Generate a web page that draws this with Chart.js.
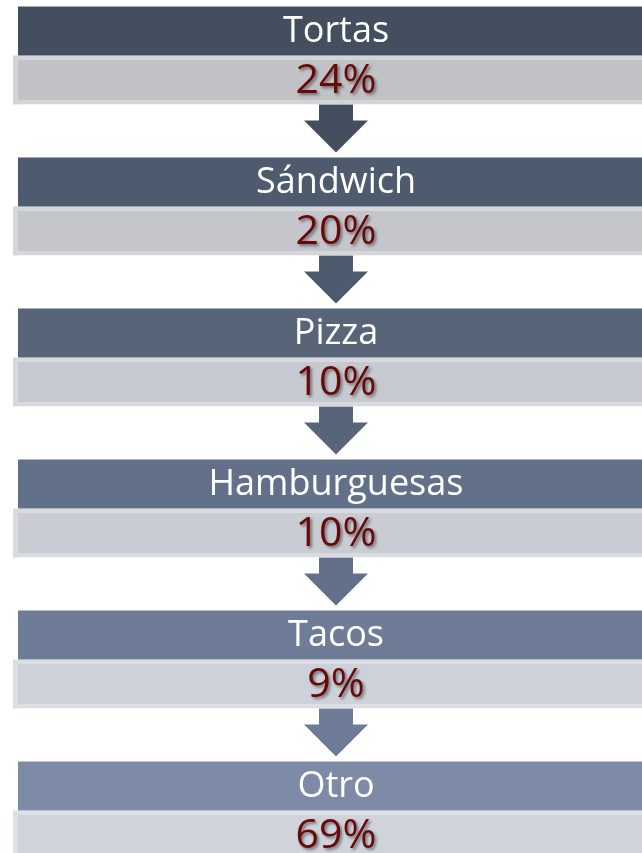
<!DOCTYPE html>
<html>
<head>
<meta charset="utf-8">
<script src="https://cdn.jsdelivr.net/npm/chart.js@4"></script>
<style>
  html, body { margin: 0; padding: 0; overflow: hidden; background: #fff; }
  #wrap { position: relative; width: 642px; height: 853px; overflow: hidden; }
  #myChart { position: absolute; left: 0; top: -20px; }
</style>
</head>
<body>
<div id="wrap"><canvas id="myChart" width="654" height="906"></canvas></div>
<script>
const categories = ["Tortas", "Sándwich", "Pizza", "Hamburguesas", "Tacos", "Otro"];
const percents = [24, 20, 10, 10, 9, 69];
// every box runs the full width, the percent is only printed
const boxSpan = [1, 1, 1, 1, 1, 1];

const darkColors = ["#434e5e", "#4e5a6d", "#586579", "#627089", "#6f7c97", "#7e8ba7"];
const grayColors = ["#c1c2c6", "#c4c6cb", "#c6c9cf", "#c9ccd3", "#cdd1d9", "#cfd3dc"];
const grayEdge = ["#d3d4d7", "#d5d6da", "#d7d9dd", "#d9dbe0", "#dcdee4", "#dde0e6"];

const ctx = document.getElementById("myChart");

const processPlugin = {
  id: "process",
  beforeDatasetsDraw(chart) {
    const c = chart.ctx;
    const grays = chart.getDatasetMeta(1).data;
    const darks = chart.getDatasetMeta(0).data;
    grays.forEach((el, i) => {
      const top = el.y - el.height / 2;
      c.fillStyle = grayEdge[i];
      c.fillRect(el.base - 5, top, 5, el.height);
      // arrow down to the next box
      if (i < grays.length - 1) {
        const y0 = el.y + el.height / 2;
        const next = darks[i + 1];
        const y1 = next.y - next.height / 2 - 5;
        const cx = (chart.chartArea.left + chart.chartArea.right) / 2;
        c.fillStyle = darkColors[i];
        c.beginPath();
        c.moveTo(cx - 17, y0);
        c.lineTo(cx + 17, y0);
        c.lineTo(cx + 17, y0 + 16);
        c.lineTo(cx + 32, y0 + 16);
        c.lineTo(cx, y1);
        c.lineTo(cx - 32, y0 + 16);
        c.lineTo(cx - 17, y0 + 16);
        c.closePath();
        c.fill();
      }
    });
  },
  afterDatasetsDraw(chart) {
    const c = chart.ctx;
    const cx = (chart.chartArea.left + chart.chartArea.right) / 2;
    c.save();
    c.textAlign = "center";
    c.textBaseline = "middle";
    chart.getDatasetMeta(0).data.forEach((el, i) => {
      c.font = "36px 'Open Sans'";
      c.fillStyle = "#ffffff";
      c.fillText(categories[i], cx, el.y + 1);
    });
    chart.getDatasetMeta(1).data.forEach((el, i) => {
      c.save();
      c.font = "41px 'Open Sans'";
      c.shadowColor = "rgba(0,0,0,0.45)";
      c.shadowOffsetX = 2;
      c.shadowOffsetY = 2;
      c.shadowBlur = 3;
      c.fillStyle = "#680808";
      c.fillText(percents[i] + "%", cx, el.y + 1);
      c.restore();
    });
    c.restore();
  },
};

new Chart(ctx, {
  type: "bar",
  data: {
    labels: categories,
    datasets: [
      {
        label: "Nombre",
        data: boxSpan,
        backgroundColor: darkColors,
        borderWidth: 0,
      },
      {
        label: "Porcentaje",
        data: boxSpan,
        backgroundColor: grayColors,
        borderColor: grayEdge,
        borderWidth: { top: 4, bottom: 4, left: 0, right: 0 },
        borderSkipped: false,
      },
    ],
  },
  options: {
    indexAxis: "y",
    responsive: false,
    animation: false,
    devicePixelRatio: 1,
    layout: { padding: { left: 18, right: 0, top: 0, bottom: 0 } },
    datasets: {
      bar: { barPercentage: 1, categoryPercentage: 98 / 151 },
    },
    scales: {
      x: { display: false, min: 0, max: 1 },
      y: { display: false },
    },
    plugins: {
      legend: { display: false },
      tooltip: { enabled: false },
    },
  },
  plugins: [processPlugin],
});
</script>
</body>
</html>
